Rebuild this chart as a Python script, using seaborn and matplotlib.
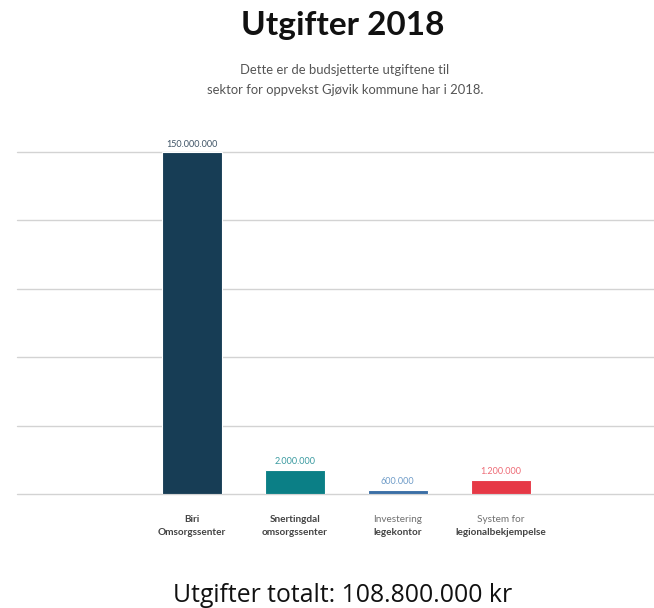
import matplotlib
matplotlib.use("Agg")
import matplotlib.pyplot as plt
import matplotlib.transforms as mtransforms
import seaborn as sns
import pandas as pd

# ---- data ----
categories = ["Biri Omsorgssenter", "Snertingdal omsorgssenter",
              "Investering legekontor", "System for legionalbekjempelse"]
label_line1 = ["Biri", "Snertingdal", "Investering", "System for"]
label_line2 = ["Omsorgssenter", "omsorgssenter", "legekontor", "legionalbekjempelse"]
line1_bold = [True, True, False, False]
bar_heights = [150, 10.7, 1.9, 6.3]
value_labels = ["150.000.000", "2.000.000", "600.000", "1.200.000"]
bar_colors = ["#173d55", "#0b7f86", "#3a6ea5", "#e63946"]
label_colors = ["#3f5466", "#3a9aa0", "#6f9cc8", "#ee6b76"]
y_ticks = [0, 30, 60, 90, 120, 150]

title = "Utgifter 2018"
subtitle = "Dette er de budsjetterte utgiftene til\nsektor for oppvekst Gjøvik kommune har i 2018."
footer = "Utgifter totalt: 108.800.000 kr"

df = pd.DataFrame({"kategori": categories, "verdi": bar_heights})

sns.set_theme(style="white")
plt.rcParams["font.family"] = ["Lato", "DejaVu Sans"]

fig = plt.figure(figsize=(6.54, 6.08), dpi=100)
ax = fig.add_axes([17 / 654, (608 - 494) / 608, 637 / 654, 342 / 608])

sns.barplot(data=df, x="kategori", y="verdi", hue="kategori",
            palette=bar_colors, legend=False, width=0.583, ax=ax,
            edgecolor="white", linewidth=0.8, saturation=1, zorder=3)

ax.set_xlim(-1.70, 4.49)
ax.set_ylim(0, 150)
ax.set_yticks(y_ticks)
ax.yaxis.grid(True, color="#d3d3d3", linewidth=1.0, zorder=0)
ax.set_axisbelow(True)
for s in ax.spines.values():
    s.set_visible(False)
ax.tick_params(axis="both", length=0, labelleft=False, labelbottom=False)
ax.set_xlabel("")
ax.set_ylabel("")
for gl in ax.get_ygridlines():
    gl.set_clip_on(False)

# value labels
for i, c in enumerate(ax.containers):
    ax.bar_label(c, labels=[value_labels[i]], padding=2.5, fontsize=6.5,
                 color=label_colors[i])

# category labels
trans = mtransforms.blended_transform_factory(ax.transData, fig.transFigure)
for i in range(len(categories)):
    ax.text(i, 1 - 520 / 608, label_line1[i], transform=trans, ha="center", va="center",
            fontsize=7.2, fontweight="bold" if line1_bold[i] else "normal",
            color="#444444" if line1_bold[i] else "#707070")
    ax.text(i, 1 - 532.5 / 608, label_line2[i], transform=trans, ha="center", va="center",
            fontsize=7.2, fontweight="bold", color="#444444")

fig.text(343 / 654, 1 - 26 / 608, title, ha="center", va="center",
         fontsize=24, fontweight="bold", color="#111111")
fig.text(345 / 654, 1 - 80 / 608, subtitle, ha="center", va="center",
         fontsize=9.4, color="#555555", linespacing=1.7)
fig.text(343 / 654, 1 - 595 / 608, footer, ha="center", va="center",
         fontsize=17.8, color="#111111", family=["Open Sans", "DejaVu Sans"])

fig.savefig("out.png", dpi=100, facecolor="white")
